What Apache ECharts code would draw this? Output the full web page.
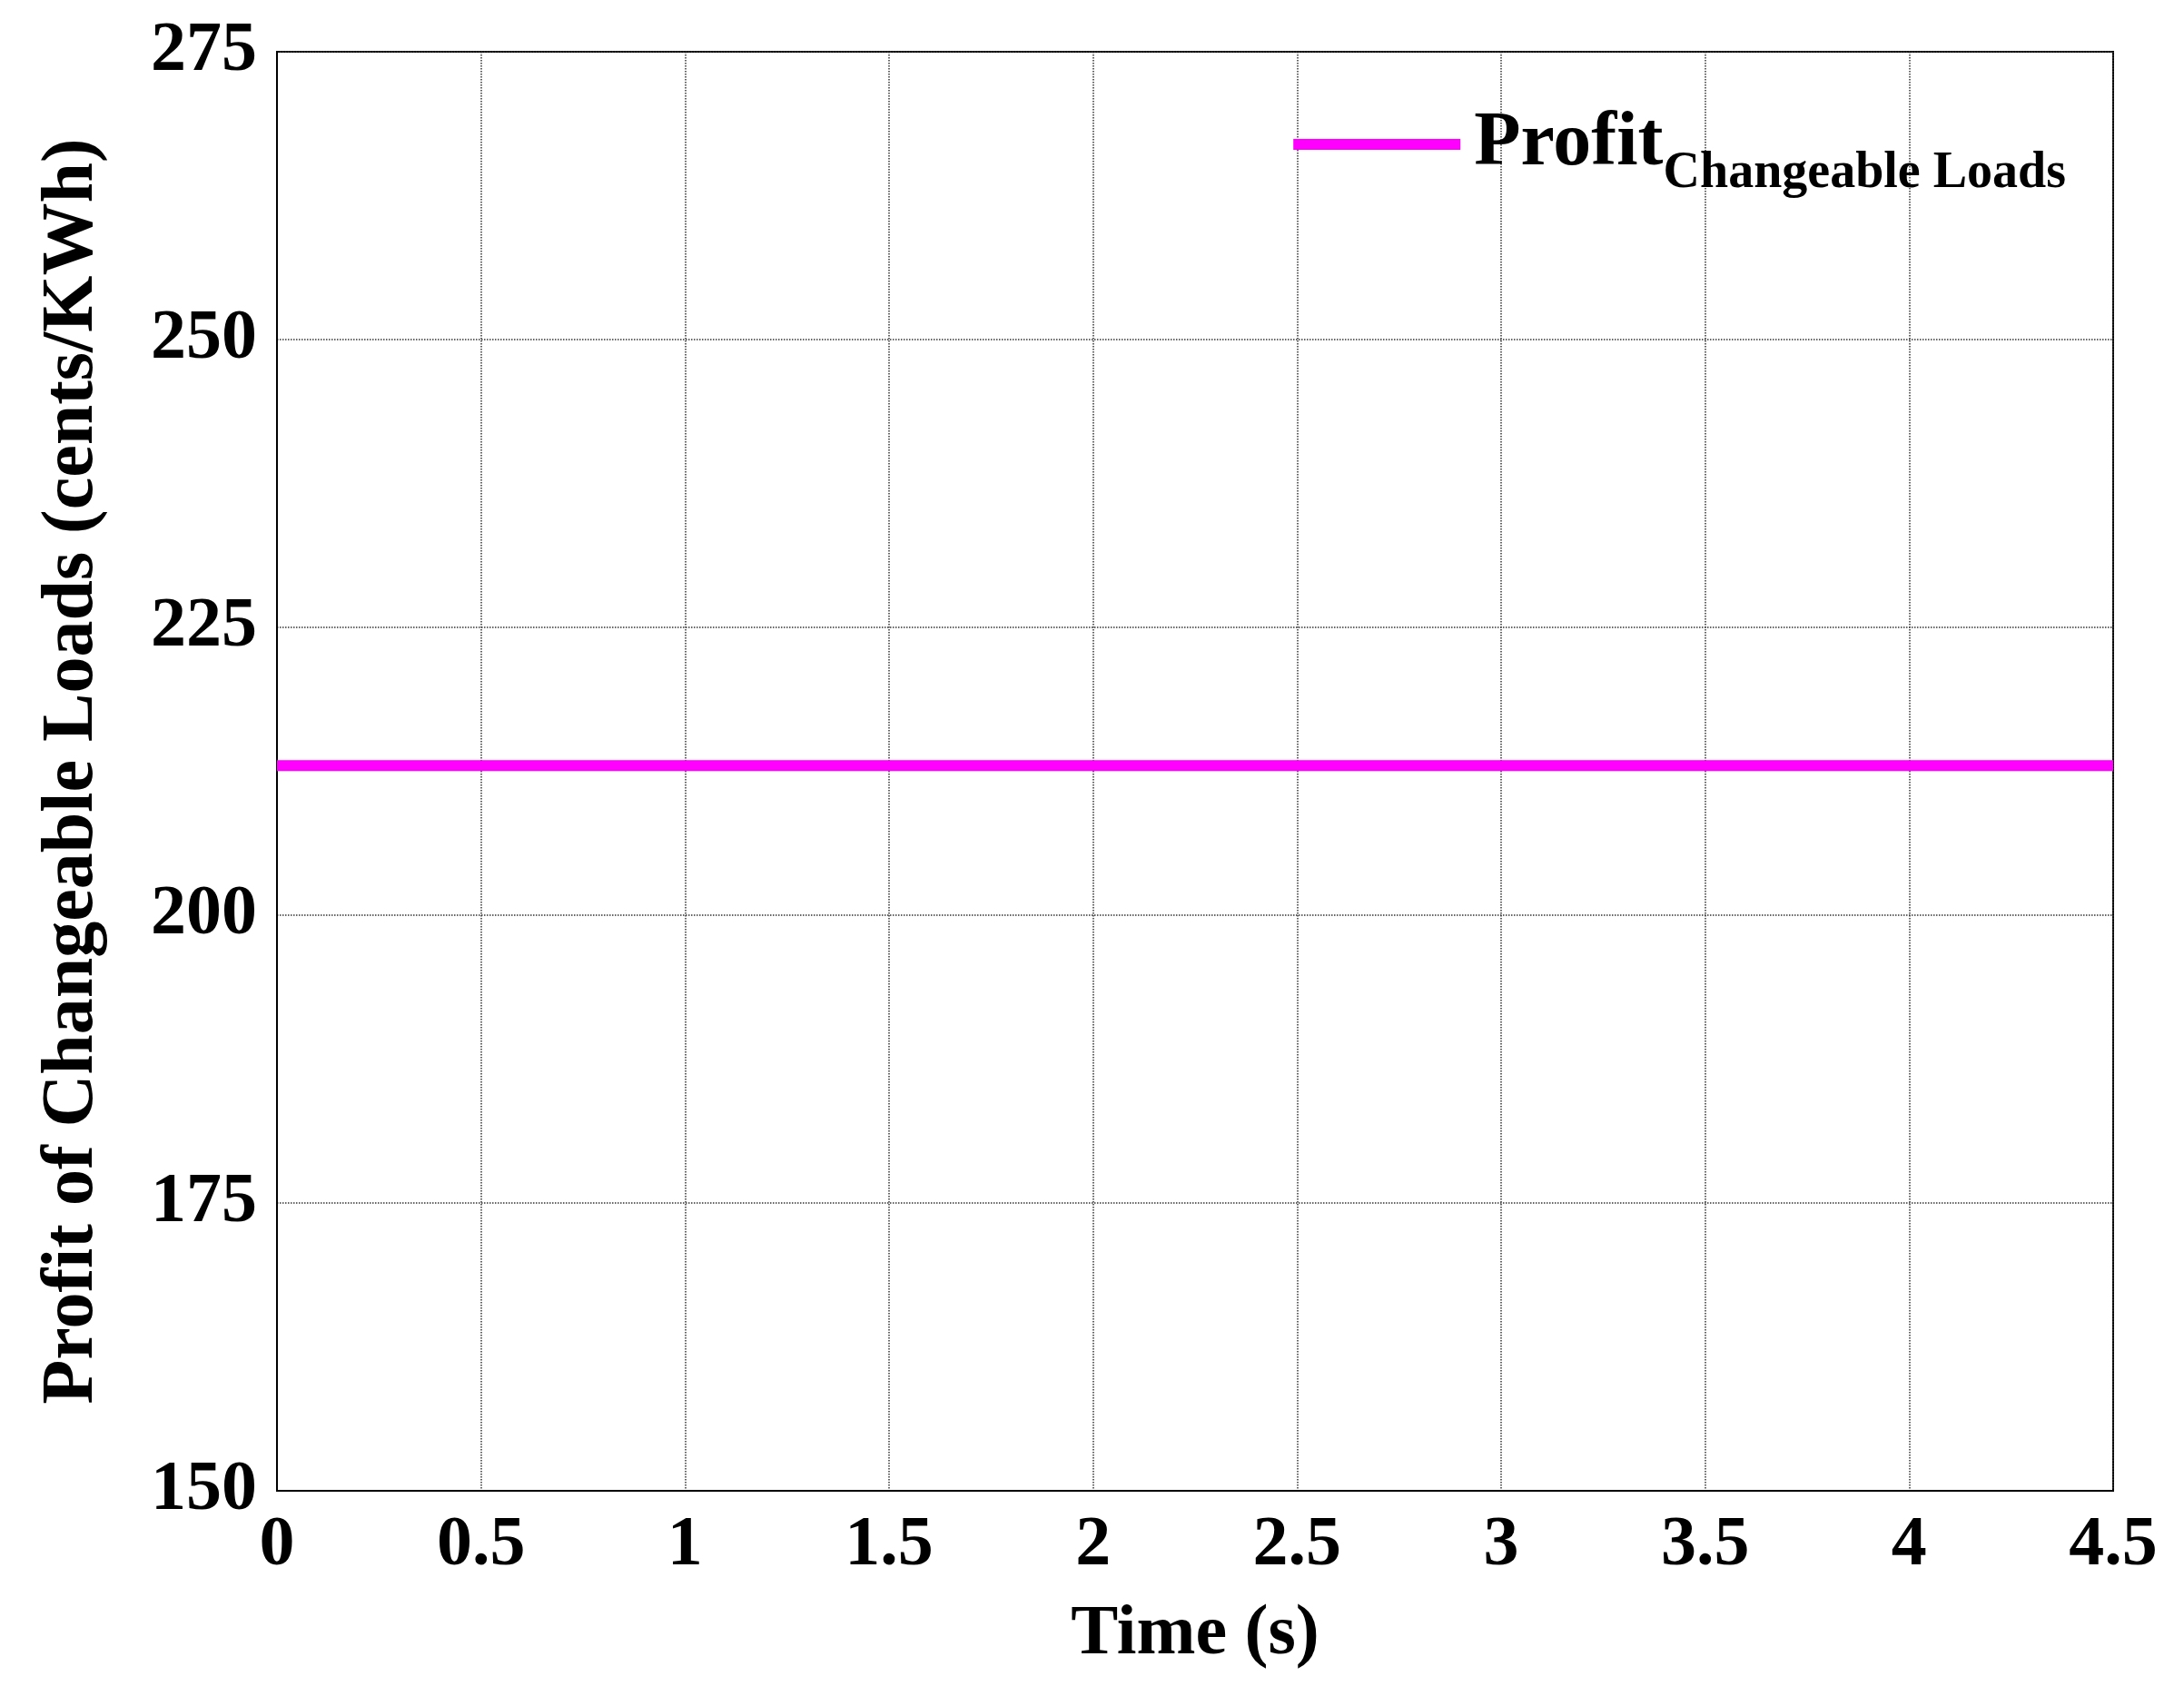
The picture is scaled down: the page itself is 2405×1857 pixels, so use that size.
<!DOCTYPE html>
<html><head><meta charset="utf-8">
<script src="https://cdn.jsdelivr.net/npm/echarts@6/dist/echarts.min.js"></script>
<style>html,body{margin:0;padding:0;background:#fff}#c{width:2405px;height:1857px}</style>
</head><body><div id="c"></div>
<script>
const timeValues = [0, 0.5, 1, 1.5, 2, 2.5, 3, 3.5, 4, 4.5];
const profitValues = [213, 213, 213, 213, 213, 213, 213, 213, 213, 213];
const seriesName = 'Profit';
const font = 'Liberation Serif';
const chart = echarts.init(document.getElementById('c'));
chart.setOption({
  backgroundColor: '#fff',
  animation: false,
  grid: {left: 305, right: 78, top: 57, bottom: 215, show: true, borderColor: '#000', borderWidth: 2},
  legend: {
    right: 125, top: 112, icon: 'rect', itemWidth: 184, itemHeight: 12, itemGap: 10,
    data: [seriesName],
    formatter: () => '{a|Profit}{b|Changeable Loads}',
    textStyle: {padding: [0, 0, 0, 10], rich: {
      a: {fontFamily: font, fontWeight: 'bold', fontSize: 84, color: '#000'},
      b: {fontFamily: font, fontWeight: 'bold', fontSize: 56, color: '#000', padding: [66, 0, 0, 0]}
    }}
  },
  xAxis: {
    type: 'value', min: 0, max: 4.5, interval: 0.5,
    name: 'Time (s)', nameLocation: 'middle', nameGap: 120,
    nameTextStyle: {fontFamily: font, fontWeight: 'bold', fontSize: 78, color: '#000', verticalAlign: 'top'},
    axisLine: {show: true, lineStyle: {color: '#000', width: 2}},
    axisTick: {show: false},
    axisLabel: {fontFamily: font, fontWeight: 'bold', fontSize: 78, color: '#000', margin: 22},
    splitLine: {show: true, lineStyle: {color: '#333', type: 'dotted', width: 1.5}}
  },
  yAxis: {
    type: 'value', min: 150, max: 275, interval: 25,
    name: 'Profit of Changeable Loads (cents/KWh)', nameLocation: 'middle', nameGap: 185,
    nameTextStyle: {fontFamily: font, fontWeight: 'bold', fontSize: 80, color: '#000'},
    axisLine: {show: true, lineStyle: {color: '#000', width: 2}},
    axisTick: {show: false},
    axisLabel: {fontFamily: font, fontWeight: 'bold', fontSize: 78, color: '#000', margin: 22},
    splitLine: {show: true, lineStyle: {color: '#333', type: 'dotted', width: 1.5}}
  },
  series: [{
    name: seriesName, type: 'line', showSymbol: false,
    data: timeValues.map((t, i) => [t, profitValues[i]]),
    lineStyle: {color: '#ff00ff', width: 12}, itemStyle: {color: '#ff00ff'}
  }]
});
</script></body></html>
